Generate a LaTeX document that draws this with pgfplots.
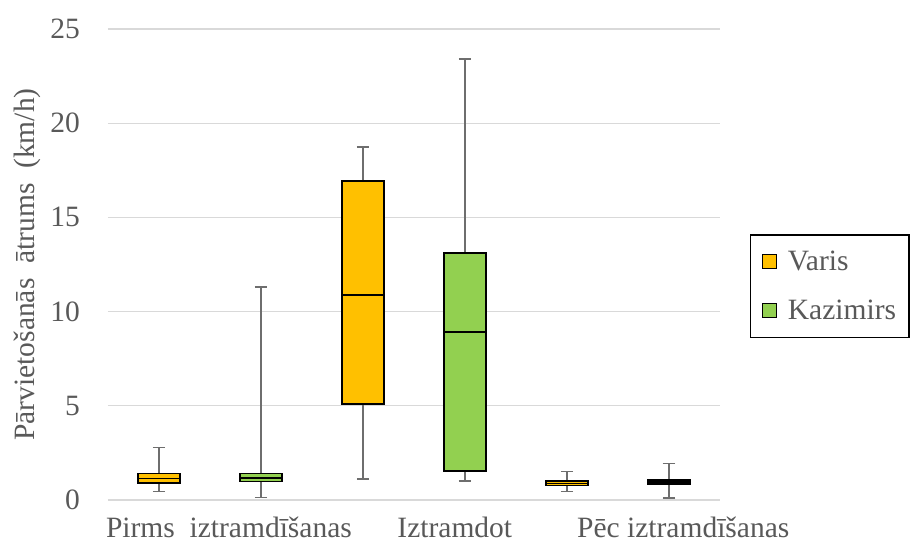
\documentclass[border=0pt]{standalone}
\usepackage{fontspec}
\setmainfont{Liberation Serif}
\usepackage{pgfplots}
\pgfplotsset{compat=1.18}
\usepgfplotslibrary{statistics}
\definecolor{varis}{HTML}{FFC000}
\definecolor{kaz}{HTML}{92D050}
\definecolor{txt}{HTML}{595959}
\definecolor{grd}{HTML}{D9D9D9}
\definecolor{whisk}{HTML}{6E6E6E}
\newcommand{\fs}{\fontsize{29.5}{35}\selectfont}
\begin{document}
\begin{tikzpicture}
\path[use as bounding box] (-108pt,-42pt) rectangle (802pt,500pt);
\begin{axis}[
  at={(0pt,0pt)}, anchor=south west,
  scale only axis, width=612pt, height=471pt,
  xmin=0, xmax=6, ymin=0, ymax=25,
  ytick={0,5,10,15,20,25},
  xtick={1.186,3.40,5.64},
  xticklabels={Pirms\ \ iztramdīšanas, Iztramdot, Pēc iztramdīšanas},
  /pgf/number format/assume math mode=true,
  tick label style={font=\fs, text=txt},
  xticklabel style={anchor=base, inner sep=0pt, yshift=-37pt},
  yticklabel style={anchor=east, inner sep=0pt, xshift=-28pt},
  major tick length=0pt,
  axis line style={draw=none},
  ymajorgrids, major grid style={draw=grd, line width=1.3pt},
  ylabel={Pārvietošanās\ \ ātrums\ \ (km/h)},
  ylabel style={font=\fs, text=txt, at={(axis description cs:-0.1324,0.5)}, anchor=center},
  boxplot/draw direction=y,
  boxplot/every whisker/.style={draw=whisk, line width=1.5pt},
  boxplot/every median/.style={draw=black, line width=1.5pt},
  legend image code/.code={\draw[#1, line width=1.3pt] (0pt,-7pt) rectangle (14pt,7pt);},
  legend cell align=left,
  legend style={font=\fs, text=txt, draw=black, line width=1.3pt, at={(1.049,0.454)}, anchor=west, inner xsep=11pt, inner ysep=14pt, row sep=24pt, /tikz/every odd column/.append style={column sep=9pt}},
]
\addlegendimage{fill=varis, draw=black}
\addlegendentry{Varis}
\addlegendimage{fill=kaz, draw=black}
\addlegendentry{Kazimirs}

\addplot[boxplot prepared={draw position=0.5, lower whisker=0.46, lower quartile=0.89, median=1.15, upper quartile=1.42, upper whisker=2.80, box extend=0.41, whisker extend=0.12}, fill=varis, draw=black, line width=1.5pt, forget plot] coordinates {};
\addplot[boxplot prepared={draw position=1.5, lower whisker=0.12, lower quartile=0.97, median=1.18, upper quartile=1.42, upper whisker=11.31, box extend=0.41, whisker extend=0.12}, fill=kaz, draw=black, line width=1.5pt, forget plot] coordinates {};
\addplot[boxplot prepared={draw position=2.5, lower whisker=1.11, lower quartile=5.10, median=10.88, upper quartile=16.93, upper whisker=18.74, box extend=0.41, whisker extend=0.12}, fill=varis, draw=black, line width=1.5pt, forget plot] coordinates {};
\addplot[boxplot prepared={draw position=3.5, lower whisker=1.01, lower quartile=1.54, median=8.92, upper quartile=13.11, upper whisker=23.41, box extend=0.41, whisker extend=0.12}, fill=kaz, draw=black, line width=1.5pt, forget plot] coordinates {};
\addplot[boxplot prepared={draw position=4.5, lower whisker=0.44, lower quartile=0.76, median=0.88, upper quartile=1.01, upper whisker=1.50, box extend=0.41, whisker extend=0.12}, fill=varis, draw=black, line width=1.5pt, forget plot] coordinates {};
\addplot[boxplot prepared={draw position=5.5, lower whisker=0.10, lower quartile=0.83, median=0.96, upper quartile=1.10, upper whisker=1.95, box extend=0.41, whisker extend=0.12}, fill=black, draw=black, line width=1.5pt, forget plot] coordinates {};
\end{axis}
\end{tikzpicture}
\end{document}
